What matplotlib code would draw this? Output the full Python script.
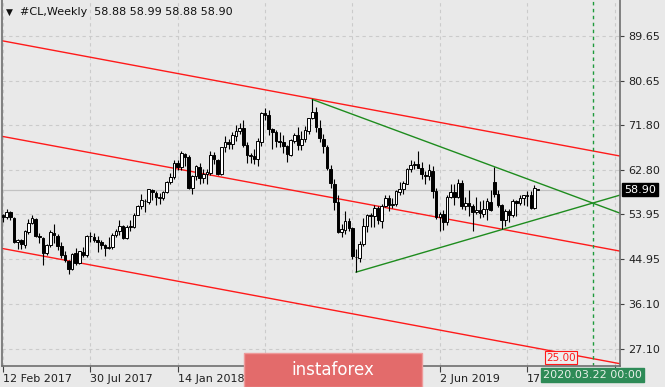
import numpy as np
import matplotlib
matplotlib.use("Agg")
import matplotlib.pyplot as plt
from matplotlib.patches import Rectangle
from matplotlib.transforms import blended_transform_factory

# Weekly #CL candles, first bar = week of 12 Feb 2017
opens = [
    53.85, 53.40, 54.40, 53.20, 48.40, 48.80, 47.80, 50.50, 52.20, 53.10,
    49.60, 49.30, 46.20, 47.80, 50.30, 49.70, 47.60, 45.80, 44.70, 43.00,
    46.20, 44.20, 46.50, 45.80, 49.70, 49.50, 48.80, 48.50, 47.80, 47.30,
    47.50, 49.90, 50.60, 51.60, 49.30, 51.40, 51.50, 53.90, 55.60, 56.70,
    56.50, 58.90, 58.30, 57.30, 57.30, 58.40, 60.40, 61.40, 64.20, 63.40,
    66.10, 65.40, 59.20, 61.60, 63.50, 61.30, 62.00, 62.30, 65.80, 64.90,
    62.00, 67.40, 68.40, 68.10, 69.70, 70.70, 71.30, 67.80, 65.70, 65.70,
    65.00, 68.50, 74.10, 73.80, 71.00, 70.40, 68.60, 68.50, 67.60, 65.90,
    68.70, 69.80, 67.80, 69.00, 70.70, 73.20, 74.30, 71.30, 69.10, 67.50,
    63.10, 60.10, 56.50, 50.40, 50.90, 52.60, 51.20, 45.50, 45.30, 48.00,
    51.60, 53.80, 53.70, 55.20, 52.70, 55.60, 57.20, 55.80, 56.00, 58.50,
    59.00, 60.10, 63.10, 63.90, 64.00, 63.30, 61.90, 61.60, 62.70, 58.60,
    53.50, 54.10, 52.50, 57.40, 58.50, 57.50, 60.20, 55.60, 56.20, 55.60,
    54.50, 54.80, 54.10, 55.10, 56.50, 60.50, 58.10, 55.90, 52.80, 54.70,
    53.80, 56.60, 56.20, 57.20, 57.70, 57.80, 55.20, 58.88,
]
highs = [
    54.00, 54.94, 54.60, 53.40, 49.00, 49.00, 50.85, 52.94, 53.76, 53.30,
    50.20, 49.50, 48.00, 50.76, 52.00, 50.00, 48.50, 46.60, 44.90, 46.31,
    47.32, 46.70, 47.40, 49.81, 50.43, 50.22, 49.70, 48.80, 48.10, 49.42,
    50.21, 51.00, 52.86, 51.90, 51.76, 52.80, 54.20, 55.76, 57.92, 57.00,
    59.05, 59.05, 58.70, 58.30, 58.57, 60.51, 62.21, 64.77, 64.89, 66.66,
    66.30, 65.90, 61.89, 63.73, 64.25, 63.00, 62.92, 66.66, 66.50, 65.00,
    67.45, 69.56, 68.97, 70.46, 71.89, 72.30, 72.83, 68.50, 66.30, 67.10,
    69.30, 74.46, 75.27, 74.70, 71.20, 70.90, 70.40, 69.90, 67.80, 69.00,
    70.25, 71.40, 70.55, 71.60, 73.25, 76.90, 75.45, 72.80, 69.95, 67.85,
    63.83, 60.96, 57.80, 52.00, 54.55, 53.27, 51.40, 47.00, 48.67, 53.31,
    53.96, 54.30, 55.75, 55.70, 55.99, 57.81, 57.88, 57.20, 58.74, 60.39,
    60.60, 63.25, 64.79, 64.64, 66.60, 64.32, 62.60, 63.93, 63.60, 59.30,
    54.50, 54.80, 57.88, 59.93, 60.10, 60.94, 60.74, 57.40, 58.82, 56.00,
    57.47, 56.62, 56.90, 57.14, 58.76, 63.38, 58.80, 56.10, 54.97, 54.95,
    56.92, 56.90, 57.88, 57.87, 58.60, 58.55, 59.85, 58.99,
]
lows = [
    52.40, 53.00, 52.80, 48.30, 47.09, 47.01, 47.30, 50.00, 52.10, 49.50,
    48.20, 43.76, 45.80, 47.50, 48.20, 46.90, 45.20, 44.36, 42.05, 42.80,
    43.90, 44.10, 45.40, 45.40, 48.40, 48.50, 46.50, 47.00, 45.58, 47.00,
    47.00, 49.40, 49.90, 49.10, 49.00, 50.71, 51.30, 53.80, 55.00, 54.48,
    56.00, 56.75, 55.82, 56.10, 56.90, 58.30, 60.10, 61.00, 62.75, 62.80,
    63.67, 58.95, 58.07, 60.82, 60.07, 60.21, 59.95, 61.90, 64.10, 61.84,
    61.80, 66.40, 67.00, 67.10, 68.60, 70.10, 67.50, 64.22, 64.30, 64.00,
    63.59, 67.70, 72.70, 69.85, 67.03, 67.40, 67.50, 66.30, 64.43, 65.70,
    68.30, 66.90, 66.80, 68.50, 70.10, 73.00, 70.50, 68.50, 66.25, 62.80,
    59.26, 54.75, 50.15, 49.41, 50.08, 50.60, 45.00, 42.36, 44.35, 47.56,
    50.40, 51.33, 51.33, 52.00, 51.23, 55.50, 54.52, 55.20, 55.60, 57.80,
    58.00, 60.10, 62.50, 63.10, 63.30, 60.99, 60.04, 60.90, 57.30, 53.05,
    50.60, 50.72, 51.75, 57.20, 55.90, 57.20, 55.00, 54.80, 53.60, 50.52,
    54.00, 53.20, 53.50, 52.80, 54.70, 57.50, 55.40, 50.99, 51.60, 52.45,
    53.50, 53.53, 55.80, 55.85, 55.60, 55.00, 55.10, 58.88,
]
closes = [
    53.40, 54.45, 53.33, 48.49, 48.78, 47.97, 50.60, 52.24, 53.18, 49.62,
    49.33, 46.22, 47.84, 50.33, 49.80, 47.66, 45.83, 44.74, 43.01, 46.04,
    44.23, 46.54, 45.77, 49.71, 49.58, 48.82, 48.51, 47.87, 47.29, 47.48,
    49.89, 50.66, 51.67, 49.29, 51.45, 51.47, 53.90, 55.64, 56.74, 56.55,
    58.95, 58.36, 57.36, 57.30, 58.47, 60.42, 61.44, 64.30, 63.37, 66.14,
    65.45, 59.20, 61.68, 63.55, 61.25, 62.04, 62.34, 65.88, 64.94, 62.06,
    67.39, 68.38, 68.10, 69.72, 70.70, 71.28, 67.88, 65.81, 65.74, 65.06,
    68.58, 74.15, 73.80, 71.01, 70.46, 68.69, 68.49, 67.63, 65.91, 68.72,
    69.80, 67.75, 68.99, 70.78, 73.25, 74.34, 71.34, 69.12, 67.59, 63.14,
    60.19, 56.46, 50.42, 50.93, 52.61, 51.20, 45.59, 45.33, 47.96, 51.59,
    53.80, 53.69, 55.26, 52.72, 55.59, 57.26, 55.80, 56.07, 58.52, 59.04,
    60.14, 63.08, 63.89, 64.00, 63.30, 61.94, 61.66, 62.76, 58.63, 53.50,
    54.10, 52.51, 57.43, 58.47, 57.51, 60.21, 55.63, 56.20, 55.66, 54.50,
    54.87, 54.17, 55.10, 56.52, 54.85, 58.09, 55.91, 52.81, 54.70, 53.78,
    56.66, 56.20, 57.24, 57.72, 57.77, 55.17, 59.20, 58.90,
]

# time scale: a label every 24 bars; two are hidden under the watermark and
# the last one is cut by the time tag in the reference
x_ticks = [0, 24, 48, 72, 96, 120, 144, 168]
x_labels = ["12 Feb 2017", "30 Jul 2017", "14 Jan 2018", "", "", "2 Jun 2019", "17", ""]
y_ticks = [89.65, 80.65, 71.80, 62.80, 53.95, 44.95, 36.10, 27.10]
y_labels = ["89.65", "80.65", "71.80", "62.80", "53.95", "44.95", "36.10", "27.10"]

# trend lines as (bar, price) anchors
red_top = [(0, 88.6), (169.5, 65.6)]
red_mid = [(0, 69.5), (169.5, 46.6)]
red_low = [(0, 47.1), (169.5, 24.1)]
green_upper = [(85, 76.9), (162, 56.2)]   # ray from the 2018 high
green_lower = [(97, 42.4), (162, 56.2)]   # ray from the 2018 low
vline_bar = 162
last_price = 58.90
header = "#CL,Weekly  58.88 58.99 58.88 58.90"

W, H = 665, 387
X_MIN, X_MAX = -0.275, 169.5
Y_MIN, Y_MAX = 23.64, 96.78
BG = "#e9e9e9"

fig = plt.figure(figsize=(W / 100, H / 100), dpi=100, facecolor=BG)
ax = fig.add_axes([2 / W, 21 / H, 618 / W, 366 / H])
ax.set_facecolor(BG)
ax.set_xlim(X_MIN, X_MAX)
ax.set_ylim(Y_MIN, Y_MAX)

# grid
for gx in x_ticks:
    ax.axvline(gx, color="#cbcbcb", lw=0.8, ls=(0, (3, 3)), zorder=0)
for gy in y_ticks:
    ax.axhline(gy, color="#cbcbcb", lw=0.8, ls=(0, (3, 3)), zorder=0)

# bid line
ax.axhline(last_price, color="#c2c2c2", lw=0.9, zorder=1)

# candles
o, h, l, c = (np.asarray(a) for a in (opens, highs, lows, closes))
idx = np.arange(len(c))
up = c >= o
ax.vlines(idx, l, h, color="black", lw=0.8, zorder=3)
body_lo = np.minimum(o, c)
body_h = np.maximum(np.abs(c - o), 0.12)
ax.bar(idx[up], body_h[up], bottom=body_lo[up], width=0.72,
       facecolor="white", edgecolor="black", linewidth=0.7, zorder=4)
ax.bar(idx[~up], body_h[~up], bottom=body_lo[~up], width=0.72,
       facecolor="black", edgecolor="black", linewidth=0.7, zorder=4)

# channel lines
for line in (red_top, red_mid, red_low):
    ax.axline(line[0], line[1], color="#ff1a1a", lw=1.0, zorder=2)

# triangle rays
for (x1, y1), (x2, y2) in (green_upper, green_lower):
    k = (y2 - y1) / (x2 - x1)
    ax.plot([x1, X_MAX], [y1, y1 + k * (X_MAX - x1)], color="#1e8c1e", lw=1.0, zorder=2)

ax.axvline(vline_bar, color="#1e9a3c", lw=1.0, ls=(0, (2.5, 2.5)), zorder=2)

# axes look
ax.spines["top"].set_visible(False)
for side in ("left", "right", "bottom"):
    ax.spines[side].set_color("#6e6e6e")
    ax.spines[side].set_linewidth(1.2)

ax.yaxis.tick_right()
ax.set_yticks(y_ticks)
ax.set_yticklabels(y_labels)
ax.tick_params(axis="y", length=3, width=0.8, color="#404040", labelsize=8,
               pad=3, labelcolor="#202020")
ax.set_xticks(x_ticks)
ax.set_xticklabels(x_labels, ha="left")
ax.tick_params(axis="x", length=4, width=0.8, color="#404040", labelsize=8,
               pad=1.5, labelcolor="#202020")

# last price tag on the price scale
tr = blended_transform_factory(ax.transAxes, ax.transData)
ax.text(1.0 + 4 / 618, last_price, "58.90", transform=tr, ha="left", va="center",
        fontsize=8, color="white", clip_on=False, zorder=10,
        bbox=dict(boxstyle="square,pad=0.15", facecolor="black", edgecolor="black"))

# price label of the lower channel line
ax.text(149.3, 25.3, "25.00", ha="left", va="center", fontsize=7.5, color="#ff1a1a",
        zorder=6, bbox=dict(boxstyle="square,pad=0.12", facecolor="#eeeeee",
                            edgecolor="#ff1a1a", linewidth=0.8))

# time tag of the vertical line, on the time scale row
tt = blended_transform_factory(ax.transData, fig.transFigure)
ax.text(vline_bar, 1 - 375 / H, "2020.03.22 00:00", transform=tt, ha="center",
        va="center", fontsize=8, color="#e8f0e8", clip_on=False, zorder=10,
        bbox=dict(boxstyle="square,pad=0.2", facecolor="#2e8b57", edgecolor="#2e8b57"))

# header
fig.text(6 / W, 1 - 12 / H, "\u25bc", fontsize=6.5, va="center", ha="left", color="#111111")
fig.text(20 / W, 1 - 12 / H, header, fontsize=8, va="center", ha="left", color="#111111")

# watermark
fig.add_artist(Rectangle((244 / W, 0), 178 / W, 34 / H, transform=fig.transFigure,
                         facecolor="#e36b6b", edgecolor="#ee9a9a", lw=1.0, zorder=5))
fig.text(333 / W, 17 / H, "instaforex", fontsize=12, color="white", ha="center",
         va="center", zorder=6)

fig.savefig("out.png", dpi=100, facecolor=BG)
